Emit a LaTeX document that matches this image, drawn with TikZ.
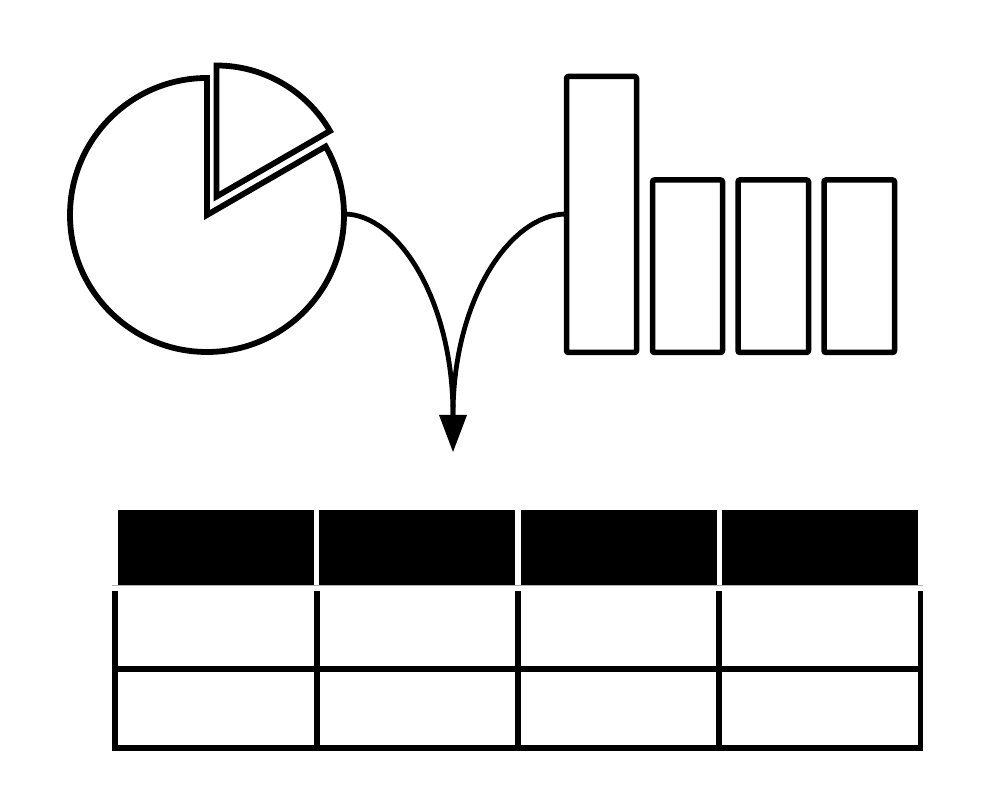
\documentclass[tikz,border=0pt]{standalone}
\begin{document}
\begin{tikzpicture}[x=1pt,y=1pt,
  icon/.style={line width=5.8pt,line join=miter,draw=black,fill=white},
  barbox/.style={line width=5.5pt,draw=black,fill=white,rounded corners=2pt},
  head/.style={fill=black},
  gridline/.style={line width=5.8pt,draw=black},
  link/.style={line width=4.8pt,draw=black}]
\useasboundingbox[fill=white] (0,0) rectangle (999,805);
% pie
\draw[icon] (207,590) -- ++(90:137) arc[start angle=90,end angle=390,radius=137] -- cycle;
\draw[icon] (216.5,608.5) -- ++(30:131) arc[start angle=30,end angle=90,radius=131] -- cycle;
% bars
\draw[barbox] (566.5,452.5) rectangle (636.5,728.5);
\draw[barbox] (652.5,452.5) rectangle (722.5,625);
\draw[barbox] (738,452.5) rectangle (808.5,625);
\draw[barbox] (824,452.5) rectangle (894.5,625);
% connectors
\coordinate (pieR) at (344,591);
\coordinate (barL) at (566.5,591);
\coordinate (merge) at (453,390);
\coordinate (tip) at (453,353);
\draw[link] (pieR) .. controls (398,591) and (453,505) .. (merge);
\draw[link] (barL) .. controls (510,591) and (453,505) .. (merge);
\fill (439,390) -- (467,390) -- (tip) -- cycle;
% table header
\fill[head] (118,220) rectangle (314,295);
\fill[head] (319,220) rectangle (515,295);
\fill[head] (521,220) rectangle (716.5,295);
\fill[head] (722,220) rectangle (918,295);
\draw[gray!60,line width=0.8pt] (112,219.5) -- (923,219.5);
% grid
\foreach \x in {115,317,518,719,920.5}{
  \draw[gridline] (\x,214) -- (\x,54);
}
\draw[line width=6pt] (112,135.5) -- (923,135.5);
\draw[line width=6pt] (112,57) -- (923,57);
\end{tikzpicture}
\end{document}
